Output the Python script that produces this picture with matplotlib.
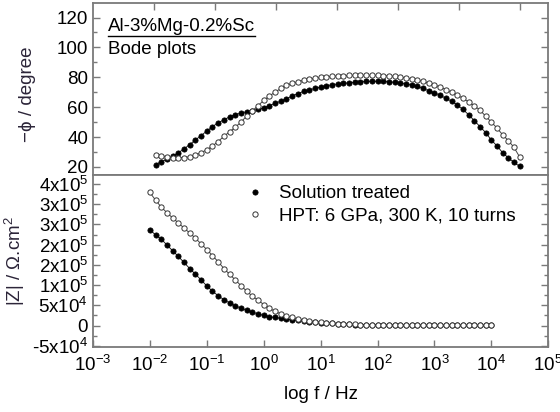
import numpy as np
import matplotlib
matplotlib.use("Agg")
import matplotlib.pyplot as plt
from matplotlib.lines import Line2D

plt.rcParams['font.family'] = ['Liberation Sans', 'DejaVu Sans']
plt.rcParams['mathtext.fontset'] = 'custom'
plt.rcParams['mathtext.rm'] = 'Liberation Sans'
plt.rcParams['mathtext.it'] = 'Liberation Sans:italic'

# phase data (frequency in Hz, -phi in degree)
freq_phase = [
    0.0126, 0.0158, 0.02, 0.0251, 0.0316, 0.0398, 0.0501, 0.0631, 0.0794,
    0.1, 0.126, 0.158, 0.2, 0.251, 0.316, 0.398, 0.501, 0.631, 0.794,
    1.0, 1.26, 1.58, 2.0, 2.51, 3.16, 3.98, 5.01, 6.31, 7.94,
    10.0, 12.6, 15.8, 20.0, 25.1, 31.6, 39.8, 50.1, 63.1, 79.4,
    100.0, 126.0, 158.0, 200.0, 251.0, 316.0, 398.0, 501.0, 631.0, 794.0,
    1000.0, 1260.0, 1580.0, 2000.0, 2510.0, 3160.0, 3980.0, 5010.0, 6310.0, 7940.0,
    10000.0, 12600.0, 15800.0, 20000.0, 25100.0, 31600.0,
]
phase_st = [
    21.5, 23.5, 25.0, 27.0, 29.5, 32.0, 35.0, 38.0, 41.0,
    44.0, 47.0, 49.5, 51.5, 53.5, 55.0, 56.0, 57.0, 57.5, 58.5,
    59.5, 61.0, 62.5, 64.0, 65.5, 67.5, 69.0, 70.5, 71.5, 72.5,
    73.5, 74.3, 75.0, 75.5, 76.0, 76.3, 76.7, 77.0, 77.2, 77.3,
    77.3, 77.2, 77.0, 76.7, 76.2, 75.7, 75.0, 74.0, 72.5, 71.0,
    69.5, 68.0, 66.0, 64.0, 61.5, 58.5, 55.0, 51.0, 47.0, 43.0,
    38.0, 34.0, 29.5, 26.0, 23.0, 20.3,
]
phase_hpt = [
    28.0, 27.5, 26.8, 26.3, 26.2, 26.3, 26.8, 28.0, 29.5,
    31.5, 34.0, 37.0, 40.5, 43.5, 46.5, 50.0, 54.0, 57.5, 61.0,
    64.5, 67.5, 70.0, 72.5, 74.5, 76.0, 77.0, 78.0, 78.8, 79.4,
    79.9, 80.3, 80.6, 80.9, 81.1, 81.2, 81.3, 81.3, 81.3, 81.3,
    81.2, 81.1, 80.9, 80.6, 80.2, 79.5, 79.0, 78.2, 77.2, 76.0,
    74.8, 73.5, 71.8, 70.0, 68.0, 66.0, 63.5, 61.0, 58.0, 54.0,
    50.0, 46.0, 41.5, 37.5, 33.0, 26.5,
]

# impedance modulus data (Ohm.cm2)
freq_z = [
    0.01, 0.0126, 0.0158, 0.02, 0.0251, 0.0316, 0.0398, 0.0501, 0.0631, 0.0794,
    0.1, 0.126, 0.158, 0.2, 0.251, 0.316, 0.398, 0.501, 0.631, 0.794,
    1.0, 1.26, 1.58, 2.0, 2.51, 3.16, 3.98, 5.01, 6.31, 7.94,
    10.0, 12.6, 15.8, 20.0, 25.1, 31.6, 39.8, 50.1, 63.1, 79.4,
    100.0, 126.0, 158.0, 200.0, 251.0, 316.0, 398.0, 501.0, 631.0, 794.0,
    1000.0, 1260.0, 1580.0, 2000.0, 2510.0, 3160.0, 3980.0, 5010.0, 6310.0, 7940.0,
    10000.0,
]
z_st = [
    237e3, 224e3, 214e3, 199e3, 185e3, 171e3, 156e3, 141e3, 127e3, 113e3,
    98e3, 85e3, 74e3, 64e3, 56e3, 49e3, 43e3, 38e3, 33e3, 29e3,
    25e3, 22e3, 20e3, 18e3, 16e3, 14.5e3, 13e3, 11.5e3, 10e3, 8.8e3,
    7.5e3, 6.3e3, 5.3e3, 4.4e3, 3.6e3, 3.0e3, 2.5e3, 2.1e3, 1.8e3, 1.5e3,
    1.3e3, 1.1e3, 950, 820, 720, 640, 580, 530, 490, 460,
    430, 410, 390, 375, 360, 350, 340, 330, 320, 315,
    310,
]
z_hpt = [
    329e3, 310e3, 293e3, 279e3, 266e3, 254e3, 241e3, 229e3, 216e3, 202e3,
    188e3, 173e3, 158e3, 141e3, 127e3, 113e3, 99e3, 85e3, 73e3, 63e3,
    52e3, 43e3, 35e3, 29e3, 24e3, 20e3, 16.5e3, 14e3, 12e3, 10e3,
    8.5e3, 7e3, 6e3, 5e3, 4.3e3, 3.6e3, 3e3, 2.5e3, 2.1e3, 1.8e3,
    1.5e3, 1.3e3, 1.1e3, 950, 830, 740, 660, 600, 550, 510,
    480, 450, 430, 410, 395, 380, 370, 360, 350, 345,
    340,
]

z_ticks = [-5e4, 0, 5e4, 1e5, 1.5e5, 2e5, 2.5e5, 3e5, 3.5e5]
z_tick_labels = ['-5x10$^4$', '0', '5x10$^4$', '1x10$^5$', '2x10$^5$',
                 '2x10$^5$', '3x10$^5$', '3x10$^5$', '4x10$^5$']
x_ticks = [1e-3, 1e-2, 1e-1, 1e0, 1e1, 1e2, 1e3, 1e4, 1e5]
x_tick_labels = ['10$^{-3}$', '10$^{-2}$', '10$^{-1}$', '10$^0$', '10$^1$',
                 '10$^2$', '10$^3$', '10$^4$', '10$^5$']

FS = 13.5
TFS = 13.5
spine_c = '#7a7a7a'
label_c = '#2b2438'

fig = plt.figure(figsize=(5.6, 4.12), dpi=100)
ax1 = fig.add_axes([0.166, 0.576, 0.813, 0.417])
ax2 = fig.add_axes([0.166, 0.158, 0.813, 0.418])


def style(ax):
    for s in ax.spines.values():
        s.set_color(spine_c)
        s.set_linewidth(1.3)
    ax.tick_params(which='both', direction='in', colors=spine_c, labelcolor='black',
                   labelsize=TFS, width=1.0)
    ax.tick_params(which='major', length=5)
    ax.tick_params(which='minor', length=3)


def draw(ax, f, y_st, y_hpt):
    ax.plot(f, y_st, '-', color='#222222', lw=0.7, zorder=2)
    ax.plot(f, y_hpt, '-', color='#444444', lw=0.7, zorder=2)
    ax.plot(f, y_st, 'o', ms=3.8, mfc='black', mec='black', mew=0.5, ls='none', zorder=3,
            label='Solution treated')
    ax.plot(f, y_hpt, 'o', ms=3.8, mfc='white', mec='#333333', mew=0.7, ls='none', zorder=4,
            label='HPT: 6 GPa, 300 K, 10 turns')


# top panel: phase
draw(ax1, freq_phase, phase_st, phase_hpt)
ax1.set_xscale('log')
ax1.set_xlim(1e-3, 1e5)
ax1.set_ylim(14.8, 129.8)
ax1.set_yticks([20, 40, 60, 80, 100, 120])
ax1.set_yticks([30, 50, 70, 90, 110], minor=True)
ax1.set_xticks([])
ax1.set_xticks([], minor=True)
style(ax1)
ax1.tick_params(axis='y', which='both', right=True)
ax1.set_ylabel('\u2212\u03d5 / degree', fontsize=FS, color=label_c)
ax1.yaxis.set_label_coords(-0.125, 0.47)

# odd top tick marks of the original figure
axt = ax1.twiny()
axt.set_xlim(0, 7.46)
axt.set_xticks([1, 2, 3, 4, 5, 6, 7])
axt.set_xticklabels([])
axt.tick_params(axis='x', direction='in', colors=spine_c, length=5, width=1.0)
for s in axt.spines.values():
    s.set_visible(False)

t1 = ax1.text(0.033, 0.865, 'Al-3%Mg-0.2%Sc', transform=ax1.transAxes,
              fontsize=FS, va='center', ha='left')
ax1.text(0.033, 0.73, 'Bode plots', transform=ax1.transAxes,
         fontsize=FS, va='center', ha='left')

# bottom panel: |Z|
draw(ax2, freq_z, z_st, z_hpt)
ax2.set_xscale('log')
ax2.set_xlim(1e-3, 1e5)
ax2.set_ylim(-5.27e4, 3.73e5)
ax2.set_xticks(x_ticks, x_tick_labels)
ax2.xaxis.set_minor_locator(matplotlib.ticker.NullLocator())
ax2.set_yticks(z_ticks, z_tick_labels)
ax2.set_yticks([-2.5e4, 2.5e4, 7.5e4, 1.25e5, 1.75e5, 2.25e5, 2.75e5, 3.25e5], minor=True)
style(ax2)
ax2.tick_params(axis='y', which='both', right=True)
ax2.tick_params(axis='x', pad=6, labelsize=FS)
ax2.set_ylabel('|Z| / \u03a9.cm$^2$', fontsize=FS, color=label_c)
ax2.yaxis.set_label_coords(-0.145, 0.5)
ax2.set_xlabel('log f / Hz', fontsize=FS, labelpad=8)

ax2.legend(loc='upper left', bbox_to_anchor=(0.31, 1.005), frameon=False, fontsize=FS,
           handlelength=1.0, handletextpad=0.8, labelspacing=0.3, borderaxespad=0.2,
           markerscale=1.0)

# underline the alloy name
fig.canvas.draw()
bb = t1.get_window_extent()
inv = fig.transFigure.inverted()
(x0, y0), (x1, _) = inv.transform([(bb.x0, bb.y0 - 1), (bb.x1, bb.y0 - 1)])
fig.add_artist(Line2D([x0, x1], [y0, y0], color='black', lw=1.0, transform=fig.transFigure))

fig.savefig('out.png', dpi=100)
